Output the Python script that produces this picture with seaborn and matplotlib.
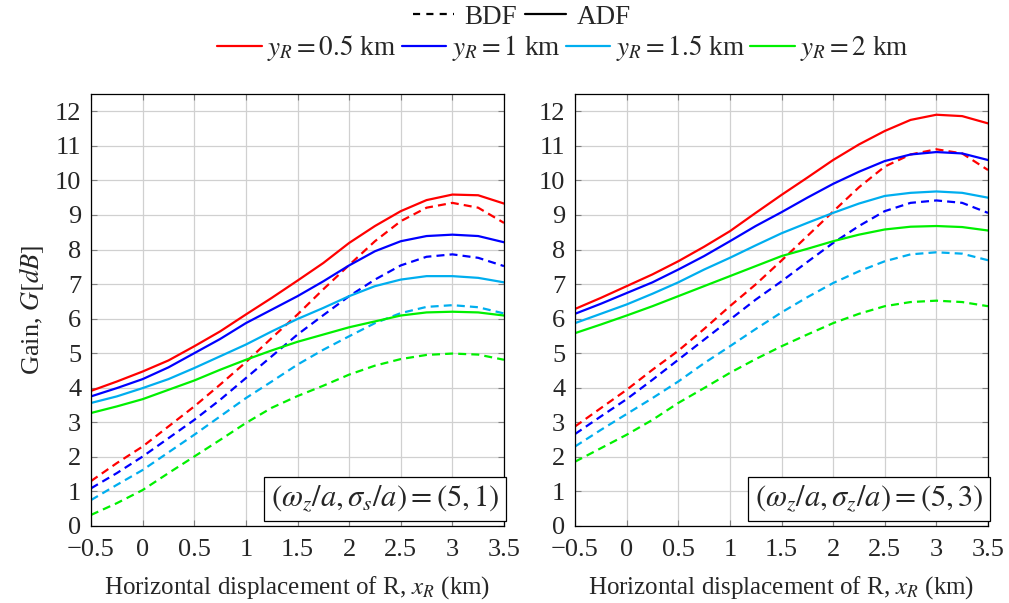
import numpy as np
import pandas as pd
import matplotlib
matplotlib.use("Agg")
import matplotlib.pyplot as plt
from matplotlib.lines import Line2D
import seaborn as sns

# Horizontal receiver displacement (km)
x_r = [-0.5, -0.25, 0.0, 0.25, 0.5, 0.75, 1.0, 1.25, 1.5,
       1.75, 2.0, 2.25, 2.5, 2.75, 3.0, 3.25, 3.5]

# Receiver heights
y_r_labels = ["0.5", "1", "1.5", "2"]

# Panel 1: (omega_z/a, sigma_s/a) = (5, 1)
adf_p1_05 = [3.91, 4.18, 4.47, 4.79, 5.20, 5.63, 6.12, 6.60, 7.10, 7.61, 8.19, 8.68, 9.11, 9.43, 9.59, 9.57, 9.33]
adf_p1_10 = [3.75, 3.99, 4.25, 4.59, 5.00, 5.41, 5.87, 6.26, 6.65, 7.08, 7.54, 7.95, 8.24, 8.39, 8.43, 8.39, 8.21]
adf_p1_15 = [3.56, 3.75, 3.99, 4.25, 4.57, 4.91, 5.25, 5.63, 5.99, 6.31, 6.65, 6.94, 7.13, 7.23, 7.23, 7.18, 7.05]
adf_p1_20 = [3.27, 3.46, 3.67, 3.94, 4.21, 4.52, 4.81, 5.08, 5.33, 5.54, 5.75, 5.92, 6.09, 6.18, 6.20, 6.18, 6.09]
bdf_p1_05 = [1.30, 1.82, 2.30, 2.88, 3.46, 4.09, 4.74, 5.44, 6.12, 6.85, 7.55, 8.24, 8.82, 9.21, 9.35, 9.21, 8.77]
bdf_p1_10 = [1.09, 1.53, 2.01, 2.54, 3.07, 3.65, 4.28, 4.91, 5.54, 6.10, 6.65, 7.13, 7.54, 7.79, 7.86, 7.76, 7.52]
bdf_p1_15 = [0.75, 1.19, 1.62, 2.13, 2.64, 3.17, 3.70, 4.18, 4.67, 5.10, 5.49, 5.87, 6.16, 6.34, 6.39, 6.33, 6.15]
bdf_p1_20 = [0.32, 0.66, 1.04, 1.53, 2.01, 2.49, 2.98, 3.42, 3.76, 4.06, 4.38, 4.64, 4.83, 4.95, 4.99, 4.96, 4.81]

# Panel 2: (omega_z/a, sigma_z/a) = (5, 3)
adf_p2_05 = [6.28, 6.60, 6.94, 7.28, 7.66, 8.08, 8.53, 9.06, 9.58, 10.08, 10.59, 11.04, 11.43, 11.75, 11.90, 11.86, 11.65]
adf_p2_10 = [6.14, 6.43, 6.74, 7.05, 7.42, 7.81, 8.24, 8.68, 9.08, 9.50, 9.90, 10.25, 10.56, 10.75, 10.82, 10.78, 10.59]
adf_p2_15 = [5.87, 6.14, 6.41, 6.72, 7.05, 7.42, 7.76, 8.12, 8.47, 8.77, 9.06, 9.33, 9.55, 9.64, 9.68, 9.64, 9.50]
adf_p2_20 = [5.58, 5.83, 6.09, 6.36, 6.65, 6.94, 7.23, 7.52, 7.81, 8.02, 8.24, 8.43, 8.58, 8.66, 8.68, 8.65, 8.55]
bdf_p2_05 = [2.88, 3.41, 3.94, 4.52, 5.07, 5.70, 6.36, 6.99, 7.68, 8.39, 9.10, 9.80, 10.40, 10.75, 10.90, 10.78, 10.30]
bdf_p2_10 = [2.66, 3.17, 3.67, 4.23, 4.81, 5.39, 5.97, 6.55, 7.08, 7.64, 8.19, 8.68, 9.11, 9.35, 9.42, 9.35, 9.06]
bdf_p2_15 = [2.30, 2.78, 3.24, 3.70, 4.18, 4.71, 5.20, 5.70, 6.18, 6.62, 7.03, 7.37, 7.66, 7.86, 7.92, 7.88, 7.69]
bdf_p2_20 = [1.86, 2.25, 2.64, 3.07, 3.56, 3.99, 4.43, 4.83, 5.20, 5.54, 5.87, 6.14, 6.36, 6.48, 6.52, 6.48, 6.36]

x_ticks = [-0.5, 0, 0.5, 1, 1.5, 2, 2.5, 3, 3.5]
x_tick_labels = ["\u22120.5", "0", "0.5", "1", "1.5", "2", "2.5", "3", "3.5"]
y_ticks = list(range(0, 13))

panels = [
    {"adf": [adf_p1_05, adf_p1_10, adf_p1_15, adf_p1_20],
     "bdf": [bdf_p1_05, bdf_p1_10, bdf_p1_15, bdf_p1_20],
     "note": r"$(\omega_z/a,\sigma_s/a) = (5,1)$"},
    {"adf": [adf_p2_05, adf_p2_10, adf_p2_15, adf_p2_20],
     "bdf": [bdf_p2_05, bdf_p2_10, bdf_p2_15, bdf_p2_20],
     "note": r"$(\omega_z/a,\sigma_z/a) = (5,3)$"},
]

colors = ["#ff0000", "#0000ff", "#00aeef", "#00f000"]
dash = (0, (3.6, 2.3))
lw = 1.6

sns.set_style("ticks")
plt.rcParams["font.family"] = ["Liberation Serif", "DejaVu Serif"]
plt.rcParams["mathtext.fontset"] = "stix"
plt.rcParams["axes.unicode_minus"] = True

fig = plt.figure(figsize=(10.09, 6.03), dpi=100)
ax_l = fig.add_axes([91 / 1009, 1 - 526 / 603, 413 / 1009, 432 / 603])
ax_r = fig.add_axes([575 / 1009, 1 - 526 / 603, 413 / 1009, 432 / 603])

for ax, panel in zip([ax_l, ax_r], panels):
    for vals, c in zip(panel["bdf"], colors):
        sns.lineplot(x=x_r, y=vals, ax=ax, color=c, linewidth=lw,
                     linestyle=dash, legend=False)
    for vals, c in zip(panel["adf"], colors):
        sns.lineplot(x=x_r, y=vals, ax=ax, color=c, linewidth=lw,
                     legend=False)
    ax.set_xlim(-0.5, 3.5)
    ax.set_ylim(0, 12.5)
    ax.set_xticks(x_ticks)
    ax.set_xticklabels(x_tick_labels)
    ax.set_yticks(y_ticks)
    ax.grid(True, color="#d0d0d0", linewidth=0.9)
    ax.set_axisbelow(True)
    ax.tick_params(direction="in", length=4, width=0.8, color="#808080",
                   labelsize=19, top=True, right=True)
    ax.tick_params(axis="x", pad=9.5)
    ax.tick_params(axis="y", pad=7)
    for sp in ax.spines.values():
        sp.set_color("black")
        sp.set_linewidth(0.9)
    ax.set_xlabel(r"Horizontal displacement of R, $x_R$ (km)", fontsize=18, labelpad=9)
    ax.text(0.988, 0.027, panel["note"], transform=ax.transAxes,
            ha="right", va="bottom", fontsize=22, zorder=5,
            bbox=dict(boxstyle="square,pad=0.22", facecolor="white",
                      edgecolor="black", linewidth=0.9))

ax_l.set_ylabel(r"Gain, $G[dB]$", fontsize=19, labelpad=6)
ax_r.set_ylabel("")

style_handles = [Line2D([], [], color="black", linewidth=lw, linestyle=(0, (3.2, 2.8))),
                 Line2D([], [], color="black", linewidth=lw)]
fig.legend(style_handles, ["BDF", "ADF"], ncol=2, loc="center",
           bbox_to_anchor=(522 / 1009, 1 - 17 / 603), frameon=False,
           fontsize=19.5, handlelength=1.5, handletextpad=0.4,
           columnspacing=0.3, borderpad=0.1)

color_handles = [Line2D([], [], color=c, linewidth=lw) for c in colors]
color_labels = [rf"$y_R = {v}$ km" for v in y_r_labels]
fig.legend(color_handles, color_labels, ncol=4, loc="center",
           bbox_to_anchor=(563 / 1009, 1 - 48 / 603), frameon=False,
           fontsize=19.5, handlelength=1.65, handletextpad=0.2,
           columnspacing=0.2, borderpad=0.1)

fig.savefig("out.png", dpi=100)
